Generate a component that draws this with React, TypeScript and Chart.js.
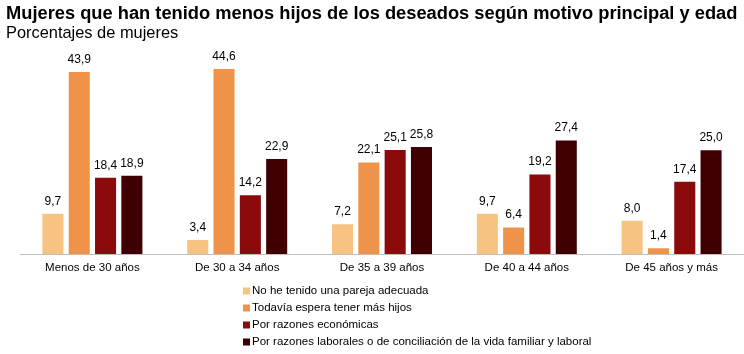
import React, { useEffect, useRef } from "react";
import { Chart, registerables } from "chart.js";

Chart.register(...registerables);

const categories = [
  "Menos de 30 años",
  "De 30 a 34 años",
  "De 35 a 39 años",
  "De 40 a 44 años",
  "De 45 años y más",
];

const seriesNames = [
  "No he tenido una pareja adecuada",
  "Todavía espera tener más hijos",
  "Por razones económicas",
  "Por razones laborales o de conciliación de la vida familiar y laboral",
];

const parejaValues = [9.7, 3.4, 7.2, 9.7, 8.0];
const esperaValues = [43.9, 44.6, 22.1, 6.4, 1.4];
const economicasValues = [18.4, 14.2, 25.1, 19.2, 17.4];
const laboralesValues = [18.9, 22.9, 25.8, 27.4, 25.0];

const seriesColors = ["#F6C383", "#EE9349", "#8B0A0B", "#3E0002"];

const FONT = "'Liberation Sans', Arial, sans-serif";

const fmt = (v: number) => v.toFixed(1).replace(".", ",");

const valueLabels = {
  id: "valueLabels",
  afterDatasetsDraw(chart: any) {
    const ctx = chart.ctx;
    ctx.save();
    ctx.font = `12px ${FONT}`;
    ctx.fillStyle = "#000";
    ctx.textAlign = "center";
    ctx.textBaseline = "alphabetic";
    chart.data.datasets.forEach((ds: any, i: number) => {
      const meta = chart.getDatasetMeta(i);
      meta.data.forEach((bar: any, j: number) => {
        ctx.fillText(fmt(ds.data[j]), bar.x, bar.y - 9);
      });
    });
    ctx.restore();
  },
};

const customLegend = {
  id: "customLegend",
  afterDraw(chart: any) {
    const ctx = chart.ctx;
    ctx.save();
    ctx.font = `11.5px ${FONT}`;
    ctx.textBaseline = "middle";
    ctx.textAlign = "left";
    const x0 = 243;
    const y0 = 291;
    const step = 17;
    chart.data.datasets.forEach((ds: any, i: number) => {
      const y = y0 + i * step;
      ctx.fillStyle = ds.backgroundColor;
      ctx.fillRect(x0, y - 3.5, 7, 7);
      ctx.fillStyle = "#000";
      ctx.fillText(ds.label, x0 + 9, y);
    });
    ctx.restore();
  },
};

export default function App() {
  const ref = useRef<HTMLCanvasElement | null>(null);
  useEffect(() => {
    if (!ref.current) return;
    const allValues = [parejaValues, esperaValues, economicasValues, laboralesValues];
    const chart = new Chart(ref.current, {
      type: "bar",
      data: {
        labels: categories,
        datasets: allValues.map((vals, i) => ({
          label: seriesNames[i],
          data: vals,
          backgroundColor: seriesColors[i],
          borderWidth: 0,
          categoryPercentage: 0.727,
          barPercentage: 0.8,
        })),
      },
      options: {
        animation: false,
        responsive: false,
        maintainAspectRatio: false,
        layout: { padding: { left: 6, right: 0, top: 0, bottom: 0 } },
        plugins: {
          legend: { display: false },
          tooltip: { enabled: false },
          title: {
            display: true,
            text: "Mujeres que han tenido menos hijos de los deseados según motivo principal y edad",
            align: "start",
            color: "#000",
            font: { family: FONT, size: 18.3, weight: "bold", lineHeight: 1.15 },
            padding: { top: 3, bottom: 0 },
          },
          subtitle: {
            display: true,
            text: "Porcentajes de mujeres",
            align: "start",
            color: "#000",
            font: { family: FONT, size: 16.4, weight: "normal", lineHeight: 1.2 },
            padding: { top: 0, bottom: 3 },
          },
        },
        scales: {
          x: {
            grid: { display: false, drawTicks: false },
            border: { display: true, color: "#BFBFBF", width: 1 },
            ticks: { color: "#000", font: { family: FONT, size: 11.5 }, padding: 7 },
            afterFit: (scale: any) => {
              scale.height = 100;
            },
          },
          y: {
            min: 0,
            max: 50,
            grid: { display: false },
            border: { display: false },
            ticks: { display: false },
            afterFit: (scale: any) => {
              scale.width = 14;
            },
          },
        },
      },
      plugins: [valueLabels, customLegend],
    } as any);
    return () => chart.destroy();
  }, []);
  return (
    <div style={{ position: "absolute", left: 0, top: 0, width: 744, height: 354, background: "#fff" }}>
      <canvas ref={ref} width={744} height={354} style={{ width: 744, height: 354, display: "block" }} />
    </div>
  );
}
